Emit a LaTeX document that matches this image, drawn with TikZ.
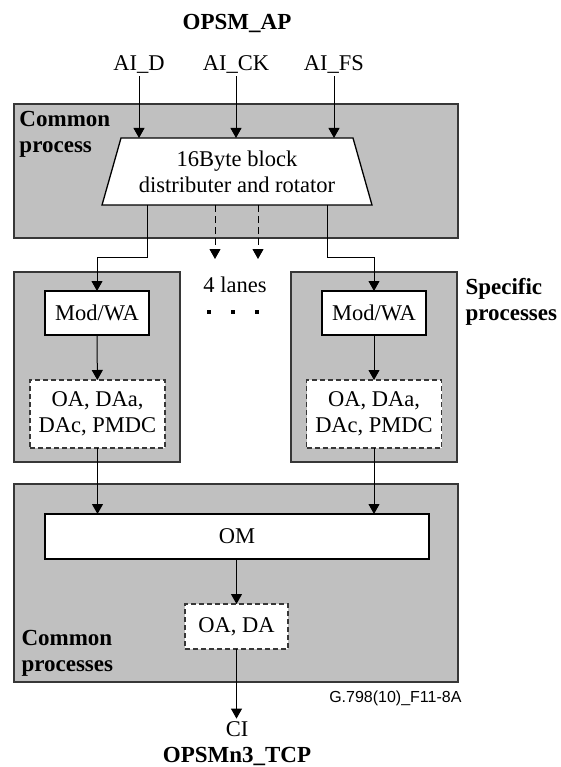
\documentclass[tikz,border=0pt]{standalone}
\usepackage{fontspec}
\setmainfont{Liberation Serif}
\newfontfamily\figsans{Liberation Sans}
\usepackage{tikz}
\usetikzlibrary{arrows.meta,shapes.geometric}
\definecolor{procgray}{RGB}{192,192,192}
\definecolor{edgegray}{RGB}{55,55,55}

\begin{document}
\begin{tikzpicture}[x=1pt,y=-1pt,
  font=\fontsize{22.5}{26}\selectfont, line width=1pt,
  area/.style={draw=edgegray,line width=1.6pt,fill=procgray},
  box/.style={draw,line width=1.3pt,fill=white,inner sep=0pt,outer sep=0pt,align=center},
  dbox/.style={box,draw=edgegray,dash pattern=on 5pt off 3pt},
  lbl/.style={inner sep=2pt},
  tag/.style={inner sep=0pt,align=left,font=\fontsize{23}{26}\selectfont\bfseries},
  >={Triangle[length=10pt,width=11pt]}]
\useasboundingbox (0,0) rectangle (560,767);
% grey process areas
\draw[area] (14,104) rectangle (458,238);
\draw[area] (14,272) rectangle (180,462);
\draw[area] (291,272) rectangle (457,462);
\draw[area] (14,484) rectangle (458,682);
\node[tag,anchor=north west] (cp) at (19,111) {Common\\process};
\node[tag,anchor=north west] (sp) at (465,278) {Specific\\processes};
\node[tag,anchor=north west] (cps) at (21,630) {Common\\processes};
% inputs
\node[tag,anchor=base] (ap) at (237,30) {OPSM\_AP};
\node[lbl,anchor=base] (aid) at (139,71) {AI\_D};
\node[lbl,anchor=base] (aick) at (236,71) {AI\_CK};
\node[lbl,anchor=base] (aifs) at (334,71) {AI\_FS};
\node[box,trapezium,trapezium left angle=69,trapezium right angle=69,
  trapezium stretches=true,minimum width=270pt,minimum height=67pt] (dist) at (237,171.5)
  {16Byte block\\distributer and rotator};
\foreach \n in {aid,aick,aifs} \draw[->] (\n.south) -- (\n.south |- dist.north);
% lanes
\coordinate (tapL) at (147,205);
\coordinate (tapR) at (327,205);
\coordinate (bendL) at (147,257);
\coordinate (bendR) at (327,257);
\node[box,minimum width=104pt,minimum height=44pt] (modL) at (97,313) {Mod/WA};
\node[box,minimum width=104pt,minimum height=44pt] (modR) at (374,313) {Mod/WA};
\node[dbox,minimum width=135pt,minimum height=68pt] (oaL) at (97.5,414) {OA, DAa,\\DAc, PMDC};
\node[dbox,minimum width=135pt,minimum height=68pt] (oaR) at (374,414) {OA, DAa,\\DAc, PMDC};
\draw[->] (tapL) -- (bendL) -| (modL);
\draw[->] (tapR) -- (bendR) -| (modR);
\foreach \x in {215,258} \draw[->,dash pattern=on 7pt off 4pt] (\x,205) -- (\x,259);
\node[anchor=base,inner sep=0pt] (lanes) at (235,292) {4 lanes};
\foreach \x in {209,233,257} \fill (\x-1.8,310.2) rectangle ++(3.6,3.6);
\draw[->] (modL) -- (oaL);
\draw[->] (modR) -- (oaR);
% merge
\node[box,minimum width=384pt,minimum height=45pt] (om) at (237,536.5) {OM};
\node[dbox,minimum width=103pt,minimum height=45pt] (oada) at (236.5,626.5) {OA, DA};
\draw[->] (oaL.south) -- (oaL.south |- om.north);
\draw[->] (oaR.south) -- (oaR.south |- om.north);
\draw[->] (om.south -| oada.north) -- (oada.north);
\node[anchor=base east,inner sep=0pt,font=\figsans\fontsize{16}{18}\selectfont] (fig) at (462,702) {G.798(10)\_F11-8A};
\node[lbl,anchor=base] (ci) at (237,736) {CI};
\node[tag,anchor=base] (tcp) at (237,762) {OPSMn3\_TCP};
\draw[->] (oada.south) -- (oada.south |- ci.north);
\end{tikzpicture}
\end{document}
